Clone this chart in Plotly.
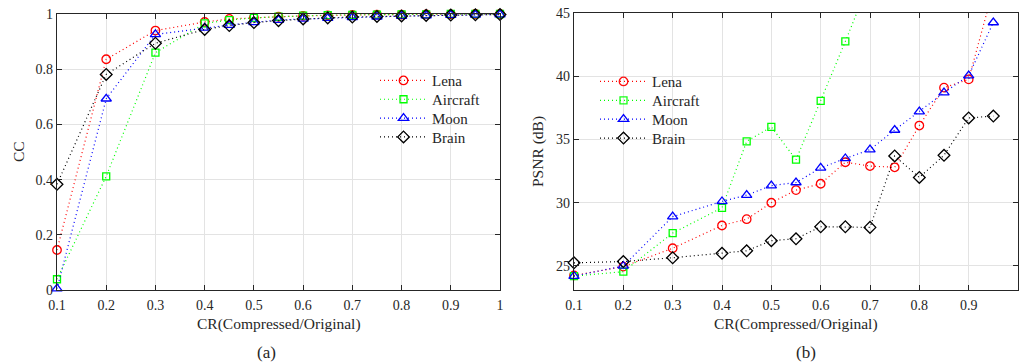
import plotly.graph_objects as go

# ---------------- data ----------------
cr_cc = [0.1, 0.2, 0.3, 0.4, 0.45, 0.5, 0.55, 0.6, 0.65, 0.7, 0.75, 0.8, 0.85, 0.9, 0.95, 1.0]
cc_lena = [0.145, 0.836, 0.940, 0.971, 0.982, 0.987, 0.990, 0.993, 0.995, 0.997, 0.998, 0.998, 0.999, 0.999, 1.0, 1.0]
cc_aircraft = [0.039, 0.412, 0.860, 0.966, 0.978, 0.986, 0.990, 0.994, 0.996, 0.997, 0.998, 0.999, 0.999, 1.0, 1.0, 1.0]
cc_moon = [0.005, 0.693, 0.926, 0.950, 0.960, 0.970, 0.978, 0.982, 0.985, 0.988, 0.990, 0.992, 0.994, 0.996, 0.997, 0.998]
cc_brain = [0.383, 0.781, 0.894, 0.944, 0.958, 0.969, 0.976, 0.982, 0.986, 0.989, 0.991, 0.993, 0.995, 0.996, 0.997, 0.998]

cr_psnr = [0.1, 0.2, 0.3, 0.4, 0.45, 0.5, 0.55, 0.6, 0.65, 0.7, 0.75, 0.8, 0.85, 0.9, 0.95]
psnr_lena = [24.25, 24.95, 26.4, 28.2, 28.7, 30.0, 31.0, 31.5, 33.2, 32.9, 32.8, 36.1, 39.1, 39.75, 46.9]
psnr_aircraft = [24.2, 24.55, 27.6, 29.6, 34.85, 36.0, 33.4, 38.05, 42.75, 47.6]
psnr_moon = [24.2, 25.0, 28.9, 30.1, 30.6, 31.35, 31.6, 32.75, 33.5, 34.2, 35.75, 37.2, 38.7, 40.05, 44.25]
psnr_brain = [25.25, 25.35, 25.65, 26.0, 26.2, 27.0, 27.15, 28.1, 28.1, 28.05, 33.7, 32.0, 33.75, 36.7, 36.85]

names = ["Lena", "Aircraft", "Moon", "Brain"]
colors = ["#FF0000", "#00FF00", "#0000FF", "#000000"]
symbols = ["circle-open", "square-open", "triangle-up-open", "diamond-open"]
sizes = [8.5, 7, 9, 9]

x_ticks = [0.1, 0.2, 0.3, 0.4, 0.5, 0.6, 0.7, 0.8, 0.9, 1.0]
x_ticklabels = ["0.1", "0.2", "0.3", "0.4", "0.5", "0.6", "0.7", "0.8", "0.9", "1"]
cc_ticks = [0, 0.2, 0.4, 0.6, 0.8, 1.0]
cc_ticklabels = ["0", "0.2", "0.4", "0.6", "0.8", "1"]
psnr_ticks = [25, 30, 35, 40, 45]
PSNR_MAX = 45
PSNR_MIN = 23.1

W, H = 1019, 364
FONT = "Liberation Serif"

def px(x):
    return x / W

def py(y):
    return 1 - y / H

fig = go.Figure()

DASH = "1px,3px"

# legend placement (pixels)
left_leg_x, left_leg_rows = 375, [80.7, 99.5, 118.3, 137.2]
right_leg_x, right_leg_rows = 595, [81.7, 100.7, 119.4, 138.3]
left_leg_box = (370, 491, 66, 149)
right_leg_box = (588, 700, 67, 150)

cc_series = [cc_lena, cc_aircraft, cc_moon, cc_brain]
for i, (name, ys, c, s, sz) in enumerate(zip(names, cc_series, colors, symbols, sizes)):
    fig.add_trace(go.Scatter(
        x=cr_cc, y=ys, name=name, mode="lines+markers",
        line=dict(color=c, width=1.2, dash=DASH),
        marker=dict(symbol=s, size=sz, color=c, line=dict(color=c, width=1.3)),
        cliponaxis=False, xaxis="x", yaxis="y",
        legend="legend" if i == 0 else f"legend{i + 1}",
    ))

psnr_series = [psnr_lena, psnr_aircraft, psnr_moon, psnr_brain]
for i, (name, ys, c, s, sz) in enumerate(zip(names, psnr_series, colors, symbols, sizes)):
    op = [1 if v <= PSNR_MAX else 0 for v in ys]
    fig.add_trace(go.Scatter(
        x=cr_psnr[:len(ys)], y=ys, name=name, mode="lines+markers",
        line=dict(color=c, width=1.2, dash=DASH),
        marker=dict(symbol=s, size=sz, color=c, opacity=op, line=dict(color=c, width=1.3)),
        cliponaxis=False, xaxis="x2", yaxis="y2",
        legend=f"legend{i + 5}",
    ))

axis_common = dict(
    showgrid=True, gridcolor="#e3e3e3", gridwidth=1,
    showline=True, linecolor="#262626", linewidth=1.2, mirror="ticks",
    ticks="inside", ticklen=5, tickcolor="#262626", tickwidth=1,
    zeroline=False, automargin=False,
    tickfont=dict(family=FONT, size=14, color="#262626"),
)

legend_style = dict(xanchor="left", yanchor="middle", bgcolor="rgba(0,0,0,0)",
                    borderwidth=0, itemwidth=47,
                    font=dict(family=FONT, size=15, color="#262626"))
legends = {}
for i, row in enumerate(left_leg_rows):
    key = "legend" if i == 0 else f"legend{i + 1}"
    legends[key] = dict(x=px(left_leg_x), y=py(row), **legend_style)
for i, row in enumerate(right_leg_rows):
    legends[f"legend{i + 5}"] = dict(x=px(right_leg_x), y=py(row), **legend_style)

fig.update_layout(
    width=W, height=H,
    margin=dict(l=0, r=0, t=0, b=0, autoexpand=False),
    paper_bgcolor="white", plot_bgcolor="white",
    font=dict(family=FONT, color="#262626"),
    showlegend=True,
    xaxis=dict(domain=[px(57), px(500)], range=[0.1, 1.0], tickvals=x_ticks,
               ticktext=x_ticklabels, anchor="y", ticklabelstandoff=2, **axis_common),
    yaxis=dict(domain=[py(290), py(14)], range=[0, 1.0], tickvals=cc_ticks,
               ticktext=cc_ticklabels, anchor="x", **axis_common),
    xaxis2=dict(domain=[px(574), px(1018)], range=[0.1, 1.0], tickvals=x_ticks,
                ticktext=x_ticklabels, anchor="y2", ticklabelstandoff=2, **axis_common),
    yaxis2=dict(domain=[py(290), py(13)], range=[PSNR_MIN, PSNR_MAX], tickvals=psnr_ticks,
                anchor="x2", **axis_common),
    **legends,
)

# white legend boxes (behind the traces, above the grid)
for (x0, x1, y0, y1) in (left_leg_box, right_leg_box):
    fig.add_shape(type="rect", xref="paper", yref="paper",
                  x0=px(x0), x1=px(x1), y0=py(y1), y1=py(y0),
                  fillcolor="white", line=dict(width=0), layer="between")

ann = [
    dict(text="CR(Compressed/Original)", x=px(278.5), y=py(324)),
    dict(text="CR(Compressed/Original)", x=px(796), y=py(324)),
    dict(text="(a)", x=px(266), y=py(352), size=17),
    dict(text="(b)", x=px(806), y=py(352), size=17),
    dict(text="CC", x=px(18), y=py(152), angle=-90),
    dict(text="PSNR (dB)", x=px(538), y=py(152), angle=-90),
]
for a in ann:
    fig.add_annotation(
        text=a["text"], x=a["x"], y=a["y"], xref="paper", yref="paper",
        xanchor="center", yanchor="middle", showarrow=False,
        textangle=a.get("angle", 0),
        font=dict(family=FONT, size=a.get("size", 15.5), color="#262626"),
    )

fig.write_html("out.html", config={"displayModeBar": False},
               post_script="document.body.style.margin='0px';")
